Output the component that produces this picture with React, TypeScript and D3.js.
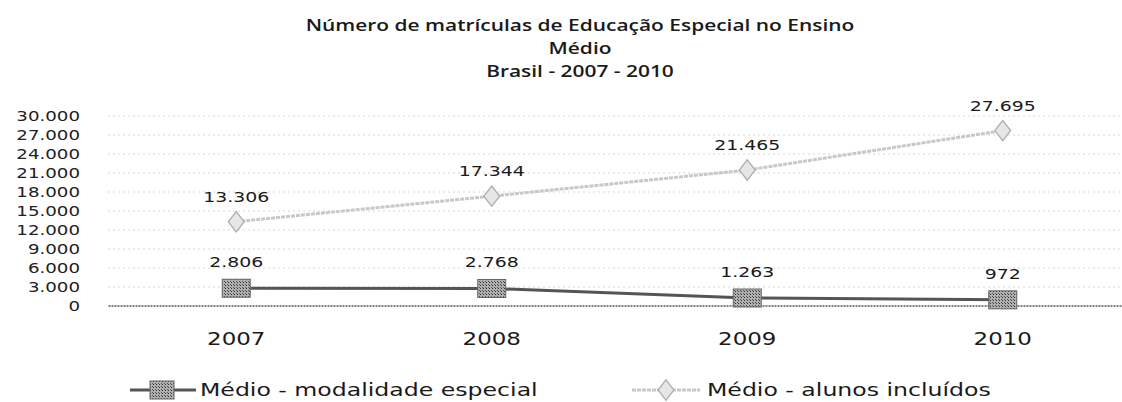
import React from 'react';
import * as d3 from 'd3';

const years = ['2007', '2008', '2009', '2010'];
const especial = [2806, 2768, 1263, 972];
const incluidos = [13306, 17344, 21465, 27695];
const yTicks = [0, 3000, 6000, 9000, 12000, 15000, 18000, 21000, 24000, 27000, 30000];
const titleLines = ['Número de matrículas de Educação Especial no Ensino', 'Médio', 'Brasil - 2007 - 2010'];
const seriesNames = ['Médio - modalidade especial', 'Médio - alunos incluídos'];

const W = 1122;
const H = 402;
const SX = 1.35; // the scan is stretched sideways
const FONT = '"DejaVu Sans", sans-serif';

const ptBR = d3.formatLocale({ decimal: ',', thousands: '.', grouping: [3], currency: ['', ''] });
const fmt = ptBR.format(',d');

function SText(props: any) {
  const { x, y, size, anchor, weight, fill, family, children } = props;
  return (
    <text
      transform={`translate(${x},${y}) scale(${SX},1)`}
      fontSize={size}
      textAnchor={anchor || 'middle'}
      fontWeight={weight || 'normal'}
      fill={fill || '#1a1a1a'}
      fontFamily={family || FONT}
    >
      {children}
    </text>
  );
}

export default function App() {
  const x = d3.scaleBand().domain(years).range([108.5, 1130.5]).padding(0);
  const cx = (d: string) => (x(d) as number) + x.bandwidth() / 2;
  const y = d3.scaleLinear().domain([0, 30000]).range([306, 116]);

  const line = d3.line<number>()
    .x((d, i) => cx(years[i]))
    .y(d => y(d));

  const diamond = d3.symbol().type(d3.symbolDiamond).size(120)();

  return (
    <svg width={W} height={H} style={{ position: 'absolute', left: 0, top: 0, background: '#fff' }}>
      <defs>
        <pattern id="dots" width="3" height="3" patternUnits="userSpaceOnUse">
          <rect width="3" height="3" fill="#b0b0b0" />
          <rect width="1" height="1" fill="#333" />
          <rect x="2" y="2" width="1" height="1" fill="#555" />
        </pattern>
      </defs>

      {titleLines.map((t, i) => (
        <SText key={t} x={580} y={31 + i * 23} size={15.5} weight={600} family={'"Open Sans", sans-serif'}>
          {t}
        </SText>
      ))}

      {yTicks.map(t => (
        <g key={t}>
          <line
            x1={x.range()[0]}
            x2={x.range()[1]}
            y1={y(t)}
            y2={y(t)}
            stroke={t === 0 ? '#555' : '#aaa'}
            strokeWidth={t === 0 ? 1.5 : 1}
            strokeDasharray={t === 0 ? '2,1' : '1,4'}
          />
          <SText x={80} y={y(t) + 5} size={13.5} anchor="end" fill="#222">
            {fmt(t)}
          </SText>
        </g>
      ))}

      {years.map(d => (
        <SText key={d} x={cx(d)} y={345} size={17}>
          {d}
        </SText>
      ))}

      <path d={line(incluidos) || ''} fill="none" stroke="#c8c8c8" strokeWidth={3} strokeDasharray="4,1" />
      <path d={line(especial) || ''} fill="none" stroke="#555" strokeWidth={3} />

      {incluidos.map((v, i) => (
        <g key={'i' + i}>
          <path
            d={diamond || ''}
            transform={`translate(${cx(years[i])},${y(v)}) scale(${SX},1)`}
            fill="#e6e6e6"
            stroke="#aaa"
            strokeWidth={1}
          />
          <SText x={cx(years[i])} y={y(v) - 20} size={14}>
            {fmt(v)}
          </SText>
        </g>
      ))}

      {especial.map((v, i) => (
        <g key={'e' + i}>
          <rect
            x={cx(years[i]) - 14}
            y={y(v) - 9}
            width={28}
            height={18}
            fill="url(#dots)"
            stroke="#666"
            strokeWidth={1}
          />
          <SText x={cx(years[i])} y={y(v) - 21} size={14}>
            {fmt(v)}
          </SText>
        </g>
      ))}

      <g>
        <line x1={130} x2={196} y1={390} y2={390} stroke="#555" strokeWidth={3} />
        <rect x={150} y={381} width={24} height={18} fill="url(#dots)" stroke="#666" />
        <SText x={200} y={396} size={17.5} anchor="start">
          {seriesNames[0]}
        </SText>
        <line x1={632} x2={700} y1={390} y2={390} stroke="#c8c8c8" strokeWidth={3} strokeDasharray="4,1" />
        <path d={diamond || ''} transform={`translate(666,390) scale(${SX},1)`} fill="#e6e6e6" stroke="#aaa" />
        <SText x={707} y={396} size={17.5} anchor="start">
          {seriesNames[1]}
        </SText>
      </g>
    </svg>
  );
}
